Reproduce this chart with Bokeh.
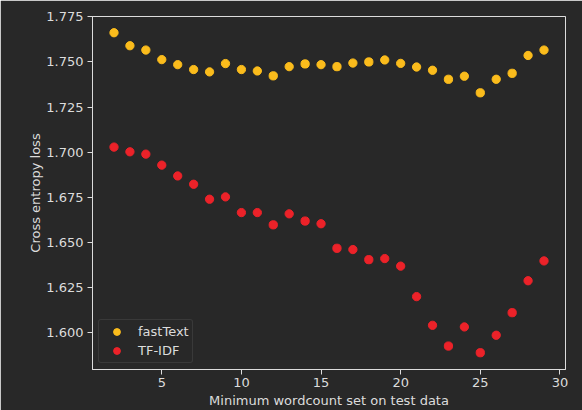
from bokeh.plotting import figure
from bokeh.models import ColumnDataSource, Range1d, FixedTicker, NumeralTickFormatter, Legend, LegendItem
from bokeh.embed import file_html
from bokeh.resources import INLINE

min_wordcount = list(range(2, 30))
fasttext_loss = [1.7662, 1.7590, 1.7566, 1.7513, 1.7485, 1.7458, 1.7445, 1.7491, 1.7458, 1.7450,
                 1.7423, 1.7474, 1.7489, 1.7485, 1.7474, 1.7494, 1.7500, 1.7511, 1.7492, 1.7472,
                 1.7454, 1.7404, 1.7421, 1.7329, 1.7404, 1.7437, 1.7536, 1.7566]
tfidf_loss = [1.7028, 1.7002, 1.6989, 1.6928, 1.6868, 1.6822, 1.6739, 1.6752, 1.6665, 1.6665,
              1.6597, 1.6658, 1.6618, 1.6603, 1.6467, 1.6460, 1.6404, 1.6410, 1.6368, 1.6199,
              1.6040, 1.5925, 1.6031, 1.5888, 1.5985, 1.6110, 1.6287, 1.6397]
x_ticks = [5, 10, 15, 20, 25, 30]
y_ticks = [1.600, 1.625, 1.650, 1.675, 1.700, 1.725, 1.750, 1.775]

BG = "#282828"
FG = "#dcdcdc"
FONT = "DejaVu Sans"

src = ColumnDataSource(dict(x=min_wordcount, ft=fasttext_loss, tf=tfidf_loss))

p = figure(width=582, height=410, output_backend="svg", toolbar_location=None,
           x_range=Range1d(0.65, 30.35), y_range=Range1d(1.5795, 1.7752),
           min_border_left=92, min_border_right=17, min_border_top=16, min_border_bottom=41)
p.background_fill_color = BG
p.border_fill_color = BG
p.outline_line_color = FG
p.grid.visible = False

r1 = p.scatter("x", "ft", source=src, size=8.3, color="#fbbc1c", line_color="#fbbc1c")
r2 = p.scatter("x", "tf", source=src, size=8.3, color="#ec2229", line_color="#ec2229")

for ax in (p.xaxis[0], p.yaxis[0]):
    ax.axis_line_color = FG
    ax.major_tick_line_color = FG
    ax.minor_tick_line_color = None
    ax.major_tick_out = 5
    ax.major_tick_in = 0
    ax.major_label_text_color = FG
    ax.major_label_text_font = FONT
    ax.major_label_text_font_size = "13px"
    ax.axis_label_text_color = FG
    ax.axis_label_text_font = FONT
    ax.axis_label_text_font_size = "13px"
    ax.axis_label_text_font_style = "normal"

p.xaxis.ticker = FixedTicker(ticks=x_ticks)
p.yaxis.ticker = FixedTicker(ticks=y_ticks)
p.yaxis.formatter = NumeralTickFormatter(format="0.000")
p.xaxis.axis_label = "Minimum wordcount set on test data"
p.yaxis.axis_label = "Cross entropy loss"
p.xaxis.major_label_standoff = 3
p.xaxis.axis_label_standoff = 3
p.yaxis.major_label_standoff = 4
p.yaxis.axis_label_standoff = 0

legend = Legend(items=[LegendItem(label="fastText", renderers=[r1]),
                       LegendItem(label="TF-IDF", renderers=[r2])],
                location="bottom_left")
legend.background_fill_color = BG
legend.background_fill_alpha = 1.0
legend.border_line_color = "#4a4a4a"
legend.border_radius = 3
legend.label_text_color = FG
legend.label_text_font = FONT
legend.label_text_font_size = "13px"
legend.margin = 6
legend.padding = 3
legend.spacing = 2
legend.glyph_width = 29
legend.glyph_height = 17
legend.label_height = 17
legend.label_standoff = 7
p.add_layout(legend)

open("out.html", "w").write(file_html(p, INLINE))
